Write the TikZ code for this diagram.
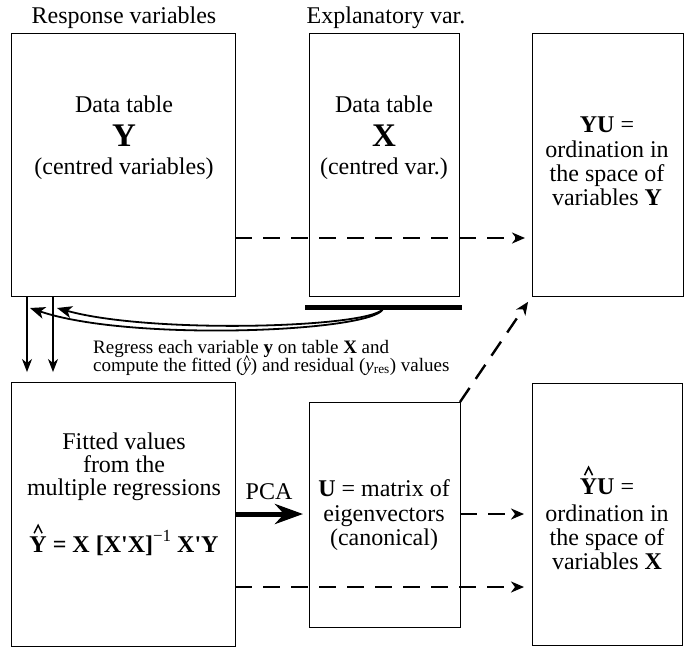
\documentclass[tikz,border=0pt]{standalone}
\usepackage{fontspec}
\setmainfont{Liberation Serif}
\newfontfamily\rawserif{Liberation Serif}[Ligatures=TeXOff]
\usetikzlibrary{arrows.meta}
\newcommand\hatbf[1]{\leavevmode\ooalign{\textbf{#1}\cr\hidewidth\raisebox{18pt}{\tikz[x=1pt,y=1pt]\draw[line width=1.5pt,line join=miter] (0,0)--(4,8)--(8,0);}\hidewidth\cr}}
\newcommand\hatit[1]{\leavevmode\ooalign{\textit{#1}\cr\hidewidth\raisebox{10pt}{\tikz[x=1pt,y=1pt]\draw[line width=0.7pt,line join=miter] (0,0)--(2.5,5)--(5,0);}\hidewidth\cr}}
\newcommand\pr{{\rawserif\bfseries\char"27}}
\begin{document}
\begin{tikzpicture}[x=1pt,y=-1pt,
  box/.style={draw,line width=0.9pt,inner sep=0pt,outer sep=0pt},
  txt/.style={anchor=base,inner sep=0pt,font=\fontsize{24}{24}\selectfont},
  small/.style={anchor=base west,inner sep=0pt,font=\fontsize{19}{19}\selectfont},
  dasharrow/.style={line width=2.4pt,dash pattern=on 17pt off 11pt,-{Stealth[length=13pt,width=11pt,inset=4pt]}},
  thinarrow/.style={line width=1.1pt,-{Stealth[length=13pt,width=10pt,inset=4pt]}},
  curvearrow/.style={line width=1.8pt,-{Stealth[length=15pt,width=12pt,inset=4pt]}}]
\useasboundingbox (0,0) rectangle (692,654);
% boxes
\node[box,minimum width=224pt,minimum height=263pt] (ybox) at (123,164.5) {};
\node[box,minimum width=150pt,minimum height=263pt] (xbox) at (384,164.5) {};
\node[box,minimum width=151pt,minimum height=263pt] (yubox) at (607.5,164.5) {};
\node[box,minimum width=224pt,minimum height=264pt] (fbox) at (123,514) {};
\node[box,minimum width=151pt,minimum height=225pt] (ubox) at (384.5,514.5) {};
\node[box,minimum width=150pt,minimum height=262pt] (yhubox) at (607,514) {};
% titles
\node[txt] (t1) at (124,23) {Response variables};
\node[txt] (t2) at (386,23) {Explanatory var.};
% Y box
\node[txt] (ya) at (124,112) {Data table};
\node[txt,font=\fontsize{33}{33}\selectfont\bfseries] (yb) at (124,146) {Y};
\node[txt] (yc) at (124,174) {(centred variables)};
% X box
\node[txt] (xa) at (384,112) {Data table};
\node[txt,font=\fontsize{33}{33}\selectfont\bfseries] (xb) at (384,146) {X};
\node[txt] (xc) at (384,174) {(centred var.)};
% YU box
\node[txt] (ua) at (607,132) {\textbf{YU} =};
\node[txt] (ub) at (607,157) {ordination in};
\node[txt] (uc) at (607,181) {the space of};
\node[txt] (ud) at (607,205) {variables \textbf{Y}};
% fitted box
\node[txt] (fa) at (124,449) {Fitted values};
\node[txt] (fb) at (124,472) {from the};
\node[txt] (fc) at (124,495) {multiple regressions};
\node[txt] (fd) at (124,552) {\hatbf{Y} \textbf{= X [X\pr X]}\raisebox{0.45em}{\fontsize{17}{17}\selectfont\char"2212 1} \textbf{X\pr Y}};
% U box
\node[txt] (pa) at (384,496) {\textbf{U} = matrix of};
\node[txt] (pb) at (384,521) {eigenvectors};
\node[txt] (pc) at (384,545) {(canonical)};
% YhatU box
\node[txt] (qa) at (607,494) {\hatbf{Y}\textbf{U} =};
\node[txt] (qb) at (607,521) {ordination in};
\node[txt] (qc) at (607,545) {the space of};
\node[txt] (qd) at (607,569) {variables \textbf{X}};
% PCA
\node[txt] (pca) at (269,499) {PCA};
% regression text
\node[small] (r1) at (93,353) {Regress each variable \textbf{y} on table \textbf{X} and};
\node[small] (r2) at (93,371) {compute the fitted (\hatit{y}) and residual (\textit{y}\textsubscript{res}) values};
% coordinates
\coordinate (h1) at (0,238);
\coordinate (h2) at (0,514);
\coordinate (h3) at (0,587);
\coordinate (bl) at (305,307);
\coordinate (br) at (462,307);
\coordinate (cs) at (383,309);
\coordinate (e1) at (30,308);
\coordinate (e2) at (57,308);
\coordinate (v1) at (27,0);
\coordinate (v2) at (53,0);
% thick bar
\draw[line width=5pt] (bl) -- (br);
% curved arrows
\draw[curvearrow] (cs) .. controls (372,332) and (130,342) .. (e1);
\draw[curvearrow] (cs) .. controls (368,328) and (150,334) .. (e2);
% down arrows
\draw[thinarrow,shorten >=10pt] (ybox.south -| v1) -- (fbox.north -| v1);
\draw[thinarrow,shorten >=10pt] (ybox.south -| v2) -- (fbox.north -| v2);
% dashed arrows
\draw[dasharrow,shorten >=7pt] (ybox.east |- h1) -- (yubox.west |- h1);
\draw[dasharrow,shorten >=8pt] (ubox.east |- h2) -- (yhubox.west |- h2);
\draw[dasharrow,shorten >=8pt] (fbox.east |- h3) -- (yhubox.west |- h3);
\draw[dasharrow,shorten >=7pt] (ubox.north east) -- (yubox.south west);
% PCA arrow
\draw[line width=5pt,-{Stealth[length=28pt,width=20pt,inset=9pt]},shorten >=6pt] (fbox.east |- h2) -- (ubox.west |- h2);
\end{tikzpicture}
\end{document}
